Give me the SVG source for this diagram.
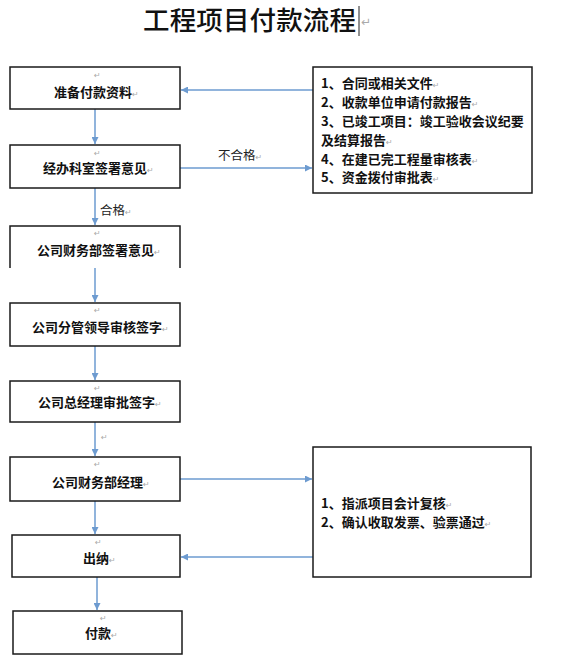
<svg xmlns="http://www.w3.org/2000/svg" width="565" height="667" viewBox="0 0 565 667">
<style>
.box{fill:#fff;stroke:#1a1a1a;stroke-width:1.5}
.open{fill:none;stroke:#1a1a1a;stroke-width:1.5}
.t{font-family:"Noto Sans CJK SC","Liberation Sans",sans-serif;font-size:13px;font-weight:bold;fill:#111}
.lbl{font-family:"Noto Sans CJK SC","Liberation Sans",sans-serif;font-size:12.5px;fill:#222}
.pm{font-family:"DejaVu Sans",sans-serif;font-size:8px;font-weight:normal;fill:#aaa}
.title{font-family:"Noto Sans CJK SC","Liberation Serif",serif;font-size:26.5px;font-weight:500;fill:#111}
.c{stroke:#6d9bd0;stroke-width:1.5;fill:none}
</style>
<defs>
<marker id="ah" viewBox="0 0 10 10" refX="10" refY="5" markerWidth="7" markerHeight="7" markerUnits="userSpaceOnUse" orient="auto">
<path d="M0,0 L10,5 L0,10 z" fill="#6d9bd0"/>
</marker>
</defs>
<rect width="565" height="667" fill="#fff"/>
<g id="title">
<text class="title" x="143" y="30" textLength="213" lengthAdjust="spacing">工程项目付款流程</text>
<line x1="359" y1="6" x2="359" y2="36" stroke="#222" stroke-width="1"/>
<text class="pm" x="361" y="26" style="font-size:12px">↵</text>
</g>
<g id="connectors">
<line class="c" x1="313" y1="90" x2="181" y2="90" marker-end="url(#ah)"/>
<line class="c" x1="95" y1="109" x2="95" y2="144" marker-end="url(#ah)"/>
<line class="c" x1="180" y1="168" x2="312" y2="168" marker-end="url(#ah)"/>
<line class="c" x1="95" y1="188" x2="95" y2="225" marker-end="url(#ah)"/>
<line class="c" x1="95" y1="268" x2="95" y2="302" marker-end="url(#ah)"/>
<line class="c" x1="95" y1="346" x2="95" y2="380" marker-end="url(#ah)"/>
<line class="c" x1="95" y1="422" x2="95" y2="456" marker-end="url(#ah)"/>
<line class="c" x1="180" y1="479" x2="312" y2="479" marker-end="url(#ah)"/>
<line class="c" x1="95" y1="501" x2="95" y2="534" marker-end="url(#ah)"/>
<line class="c" x1="313" y1="557" x2="181" y2="557" marker-end="url(#ah)"/>
<line class="c" x1="97" y1="577" x2="97" y2="610" marker-end="url(#ah)"/>
<text class="lbl" x="218" y="160">不合格<tspan class="pm">↵</tspan></text>
<text class="lbl" x="100" y="215">合格<tspan class="pm">↵</tspan></text>
<text class="pm" x="101" y="440">↵</text>
</g>
<g id="n1">
<rect class="box" x="10" y="67" width="170" height="42"/>
<text class="pm" x="94" y="78">↵</text>
<text class="t" x="54" y="97">准备付款资料<tspan class="pm">↵</tspan></text>
</g>
<g id="n2">
<rect class="box" x="10" y="145" width="170" height="43"/>
<text class="pm" x="94" y="156">↵</text>
<text class="t" x="43" y="173">经办科室签署意见<tspan class="pm">↵</tspan></text>
</g>
<g id="n3">
<path class="open" d="M10,268 V226 H180 V268"/>
<text class="pm" x="94" y="236">↵</text>
<text class="t" x="37" y="255">公司财务部签署意见<tspan class="pm">↵</tspan></text>
</g>
<g id="n4">
<rect class="box" x="10" y="303" width="170" height="43"/>
<text class="pm" x="94" y="313">↵</text>
<text class="t" x="32" y="332">公司分管领导审核签字<tspan class="pm">↵</tspan></text>
</g>
<g id="n5">
<rect class="box" x="10" y="381" width="170" height="41"/>
<text class="pm" x="94" y="391">↵</text>
<text class="t" x="38" y="407">公司总经理审批签字<tspan class="pm">↵</tspan></text>
</g>
<g id="n6">
<rect class="box" x="10" y="457" width="170" height="44"/>
<text class="pm" x="94" y="467">↵</text>
<text class="t" x="52" y="487">公司财务部经理<tspan class="pm">↵</tspan></text>
</g>
<g id="n7">
<rect class="box" x="12" y="535" width="168" height="42"/>
<text class="pm" x="95" y="545">↵</text>
<text class="t" x="83" y="563">出纳<tspan class="pm">↵</tspan></text>
</g>
<g id="n8">
<rect class="box" x="13" y="611" width="169" height="43"/>
<text class="pm" x="100" y="621">↵</text>
<text class="t" x="85" y="638">付款<tspan class="pm">↵</tspan></text>
</g>
<g id="r1">
<rect class="box" x="313" y="67" width="219" height="126"/>
<text class="t" x="321" y="88">1、合同或相关文件<tspan class="pm">↵</tspan></text>
<text class="t" x="321" y="107">2、收款单位申请付款报告<tspan class="pm">↵</tspan></text>
<text class="t" x="321" y="126">3、已竣工项目：竣工验收会议纪要</text>
<text class="t" x="321" y="145">及结算报告<tspan class="pm">↵</tspan></text>
<text class="t" x="321" y="164">4、在建已完工程量审核表<tspan class="pm">↵</tspan></text>
<text class="t" x="321" y="182">5、资金拨付审批表<tspan class="pm">↵</tspan></text>
</g>
<g id="r2">
<rect class="box" x="313" y="447" width="218" height="130"/>
<text class="t" x="321" y="508">1、指派项目会计复核<tspan class="pm">↵</tspan></text>
<text class="t" x="321" y="527">2、确认收取发票、验票通过<tspan class="pm">↵</tspan></text>
</g>
</svg>
